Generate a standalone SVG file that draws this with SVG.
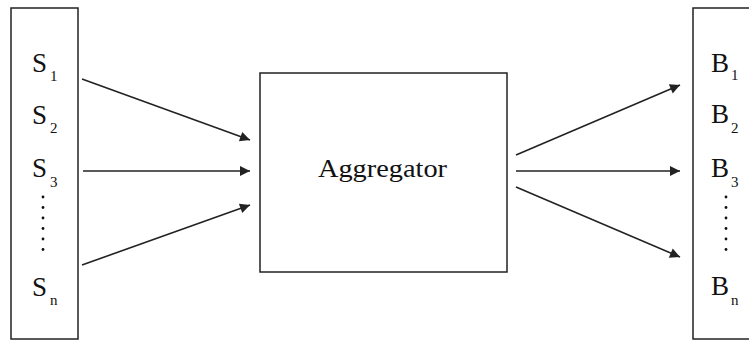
<svg xmlns="http://www.w3.org/2000/svg" width="749" height="342" viewBox="0 0 749 342">
<defs>
<style>
.box{fill:#fff;stroke:#222;stroke-width:1.5}
.lbl{font-size:27px;fill:#111}
.sub{font-size:15px;fill:#111}
.dot{fill:#111}
.edge{stroke:#222;stroke-width:1.6;fill:none;marker-end:url(#ah)}
</style>
<marker id="ah" viewBox="0 0 10 10" refX="10" refY="5" markerWidth="14" markerHeight="10" markerUnits="userSpaceOnUse" orient="auto">
<path d="M0,0 L10,5 L0,10 z" fill="#222"/>
</marker>
</defs>
<rect width="749" height="342" fill="#fff"/>
<g font-family="Liberation Serif, Times New Roman, Times, DejaVu Serif, serif">
<g id="sources">
<rect class="box" x="11" y="8" width="67" height="331"/>
<text class="lbl" x="32" y="72">S</text><text class="sub" x="50" y="81">1</text>
<text class="lbl" x="32" y="124">S</text><text class="sub" x="50" y="133">2</text>
<text class="lbl" x="32" y="177">S</text><text class="sub" x="50" y="187">3</text>
<g class="dot">
<circle cx="43" cy="197" r="1.4"/><circle cx="43" cy="207.5" r="1.4"/><circle cx="43" cy="218" r="1.4"/><circle cx="43" cy="228.5" r="1.4"/><circle cx="43" cy="239" r="1.4"/><circle cx="43" cy="249.5" r="1.4"/>
</g>
<text class="lbl" x="32" y="296">S</text><text class="sub" x="50" y="305">n</text>
</g>
<g id="aggregator">
<rect class="box" x="260" y="73" width="247" height="199"/>
<text x="318" y="177" font-size="26" fill="#111" textLength="129" lengthAdjust="spacingAndGlyphs">Aggregator</text>
</g>
<g id="buyers">
<rect class="box" x="693" y="8" width="70" height="331"/>
<text class="lbl" x="711" y="72">B</text><text class="sub" x="731" y="80">1</text>
<text class="lbl" x="711" y="123">B</text><text class="sub" x="731" y="133">2</text>
<text class="lbl" x="711" y="177">B</text><text class="sub" x="731" y="187">3</text>
<g class="dot">
<circle cx="726" cy="197" r="1.4"/><circle cx="726" cy="207.5" r="1.4"/><circle cx="726" cy="218" r="1.4"/><circle cx="726" cy="228.5" r="1.4"/><circle cx="726" cy="239" r="1.4"/><circle cx="726" cy="249.5" r="1.4"/>
</g>
<text class="lbl" x="711" y="295">B</text><text class="sub" x="731" y="305">n</text>
</g>
</g>
<g id="connectors">
<line class="edge" x1="82" y1="79" x2="250" y2="140"/>
<line class="edge" x1="83" y1="171" x2="250" y2="171"/>
<line class="edge" x1="82" y1="265" x2="250" y2="205"/>
<line class="edge" x1="516" y1="155" x2="680" y2="85"/>
<line class="edge" x1="516" y1="171" x2="680" y2="171"/>
<line class="edge" x1="516" y1="187" x2="680" y2="257"/>
</g>
</svg>
